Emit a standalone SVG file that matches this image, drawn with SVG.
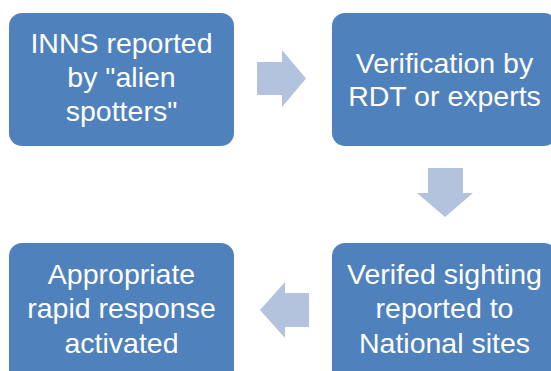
<svg xmlns="http://www.w3.org/2000/svg" width="551" height="371" viewBox="0 0 551 371">
<style>
.box{fill:#4F81BD;}
.arrow{fill:#B3C3DE;}
text{font-family:"Liberation Sans",Arial,sans-serif;font-size:28.5px;fill:#FFFFFF;text-anchor:middle;}
</style>
<rect width="551" height="371" fill="#FFFFFF"/>
<g id="node1">
<rect class="box" x="9" y="13" width="225" height="133" rx="13"/>
<text x="121.5" y="53">INNS reported</text>
<text x="121.5" y="87">by "alien</text>
<text x="121.5" y="121">spotters"</text>
</g>
<g id="node2">
<rect class="box" x="332" y="13" width="225" height="133" rx="13"/>
<text x="444.5" y="73">Verification by</text>
<text x="444.5" y="106">RDT or experts</text>
</g>
<g id="node3">
<rect class="box" x="332" y="243" width="225" height="140" rx="13"/>
<text x="444.5" y="284">Verifed sighting</text>
<text x="444.5" y="318">reported to</text>
<text x="444.5" y="353">National sites</text>
</g>
<g id="node4">
<rect class="box" x="9" y="243" width="225" height="140" rx="13"/>
<text x="121.5" y="284">Appropriate</text>
<text x="121.5" y="318">rapid response</text>
<text x="121.5" y="353">activated</text>
</g>
<g id="connectors">
<polygon class="arrow" points="257,62 282,62 282,50 306,78.5 282,107 282,95 257,95"/>
<polygon class="arrow" points="428,168 463,168 463,193 473,193 445,217 417,193 428,193"/>
<polygon class="arrow" points="309,293 285,293 285,282 260,310 285,338 285,327 309,327"/>
</g>
</svg>
